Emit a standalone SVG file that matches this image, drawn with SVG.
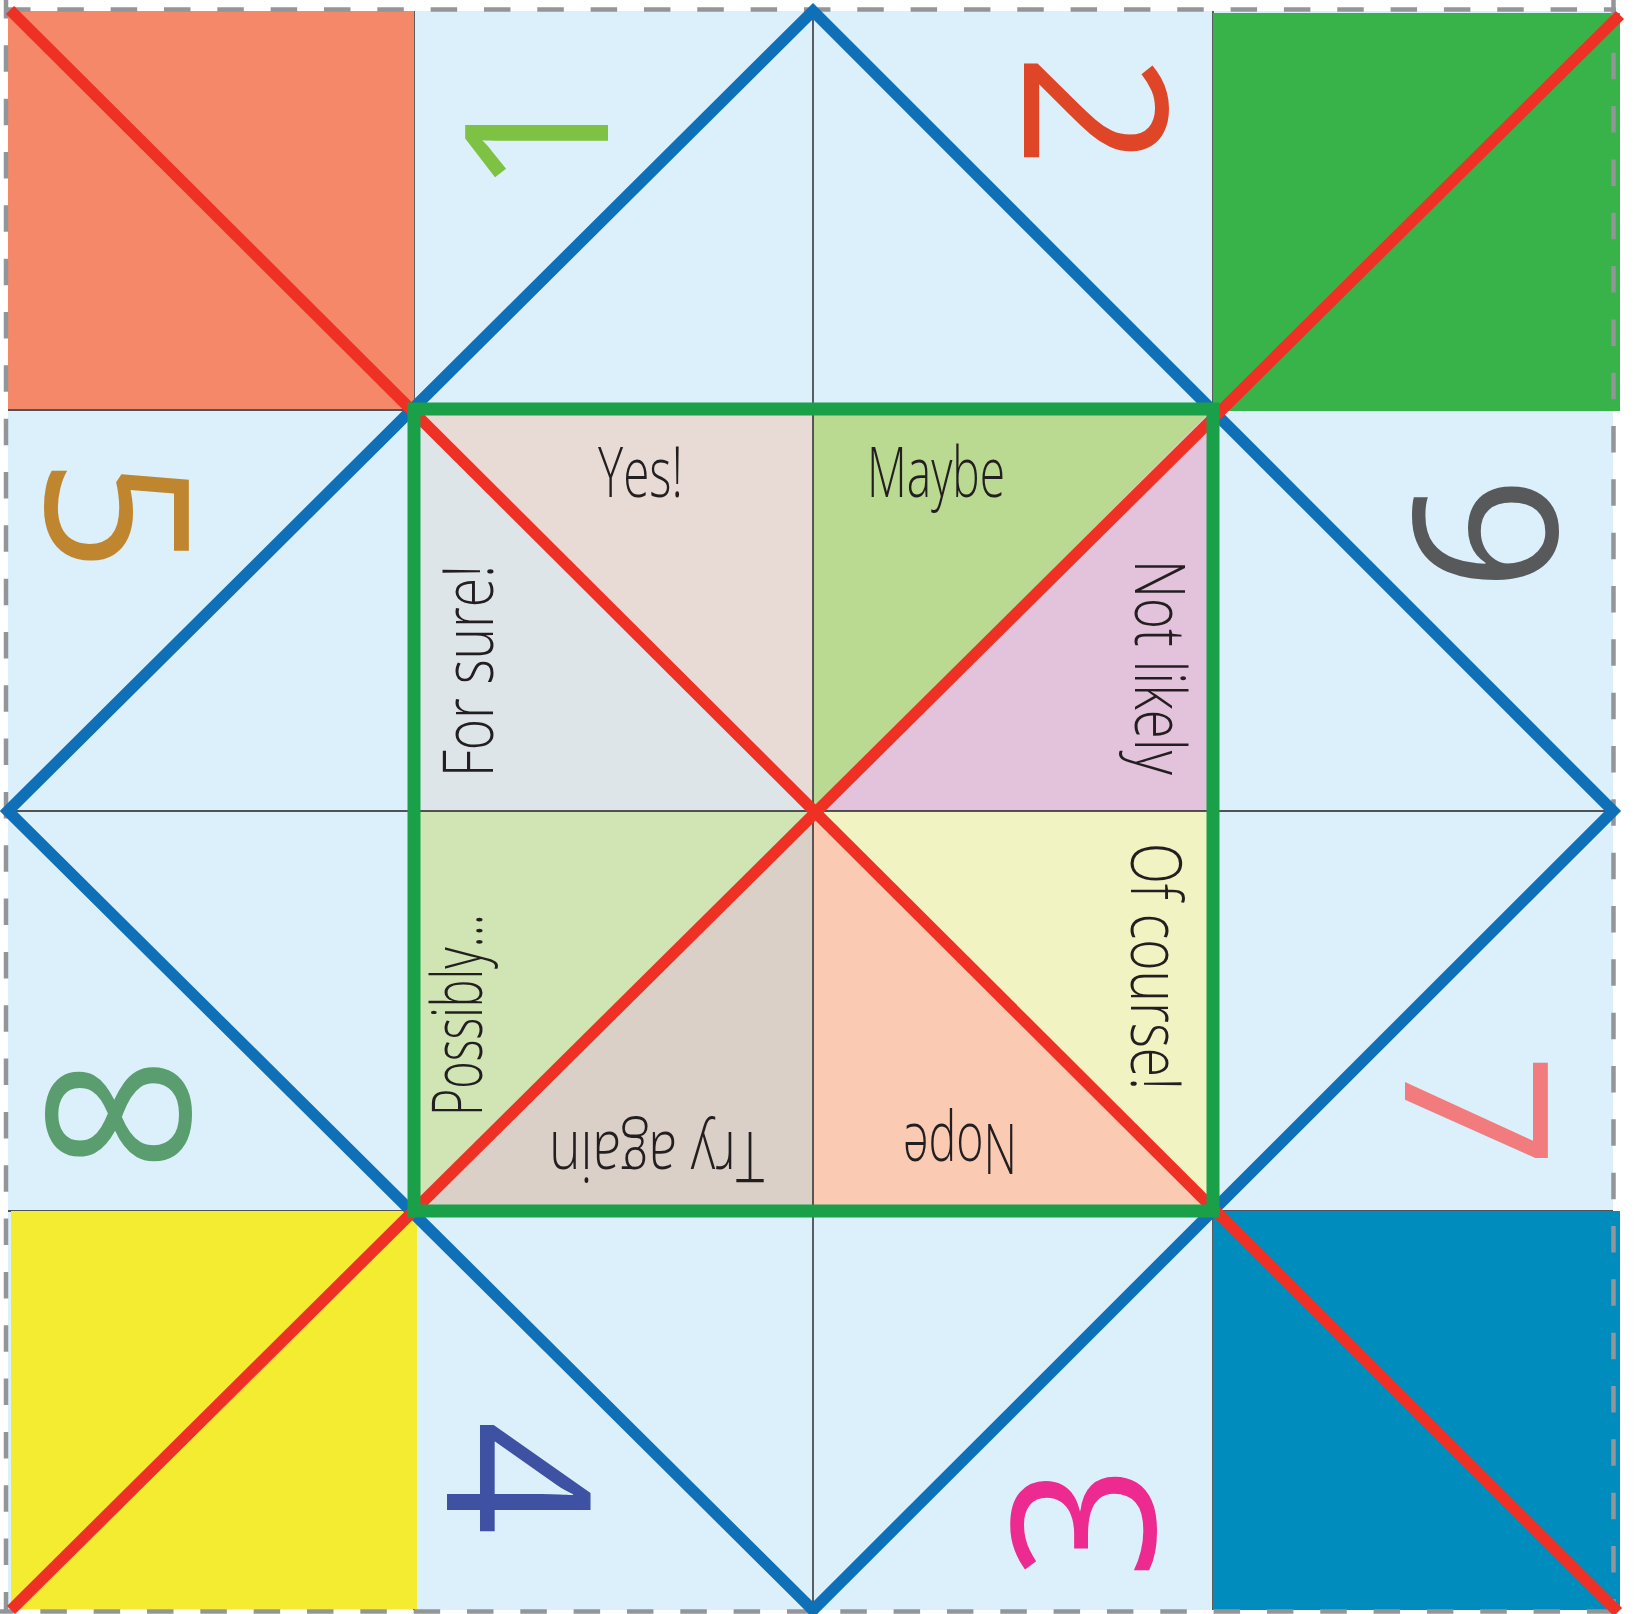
<svg xmlns="http://www.w3.org/2000/svg" width="1635" height="1614" viewBox="0 0 1635 1614">
<style>
.grid{stroke:#231f20;stroke-width:1.4;fill:none}
.dash{stroke:#939598;stroke-width:4.5;stroke-dasharray:26.5 26.83;fill:none}
.num{font-family:"Open Sans","Noto Sans",sans-serif;font-size:200px;text-anchor:middle}
.ans{font-family:"Open Sans","Noto Sans",sans-serif;font-size:70px;font-weight:300;fill:#231f20}
</style>
<rect x="0" y="0" width="1635" height="1614" fill="#ffffff"/>
<rect id="paper" x="8" y="11" width="1605" height="1599" fill="#dbf0fb"/>
<g id="answers">
<polygon points="414,409 813,409 813,811" fill="#e8dbd5"/>
<polygon points="414,409 414,811 813,811" fill="#dee5e9"/>
<polygon points="813,409 1213,409 813,811" fill="#bbda91"/>
<polygon points="1213,409 1213,811 813,811" fill="#e3c3dc"/>
<polygon points="414,811 813,811 414,1211" fill="#d0e4b4"/>
<polygon points="813,811 813,1211 414,1211" fill="#dbd0c7"/>
<polygon points="813,811 1213,811 1213,1211" fill="#f1f4c2"/>
<polygon points="813,811 813,1211 1213,1211" fill="#fbcab3"/>
</g>
<g id="grid">
<line class="grid" x1="414" y1="11" x2="414" y2="1610"/>
<line class="grid" x1="813" y1="11" x2="813" y2="1610"/>
<line class="grid" x1="1213" y1="11" x2="1213" y2="1610"/>
<line class="grid" x1="8" y1="410" x2="1613" y2="410"/>
<line class="grid" x1="8" y1="811" x2="1613" y2="811"/>
<line class="grid" x1="8" y1="1211" x2="1613" y2="1211"/>
</g>
<g id="corners">
<rect x="8" y="11" width="406" height="398" fill="#f58868"/>
<rect x="1213" y="13" width="407" height="398" fill="#37b34a"/>
<rect x="11" y="1211" width="406" height="398" fill="#f4ec30"/>
<rect x="1213" y="1211" width="407" height="399" fill="#008cbc"/>
</g>
<g id="border">
<line class="dash" x1="4" y1="9.5" x2="1616" y2="9.5"/>
<line class="dash" x1="6" y1="-8" x2="6" y2="1612"/>
<line class="dash" x1="-13" y1="1611.5" x2="1616" y2="1611.5"/>
<line class="dash" x1="1613.5" y1="-0.6" x2="1613.5" y2="1612"/>
</g>
<g id="numbers">
<text class="num" fill="#7dc242" transform="translate(537,138) rotate(-90)" y="71">1</text>
<text class="num" fill="#df4527" transform="translate(1095,111) rotate(90)" y="71">2</text>
<text class="num" fill="#c0862f" transform="translate(117,515) rotate(90)" y="71">5</text>
<text class="num" fill="#58595b" transform="translate(1486,534) rotate(-90)" y="71">6</text>
<text class="num" fill="#5a9e6f" transform="translate(119,1114) rotate(-90)" y="71">8</text>
<text class="num" fill="#f27c7d" transform="translate(1476,1111) rotate(90)" y="71">7</text>
<text class="num" fill="#3f51a3" transform="translate(518,1478) rotate(90)" y="71">4</text>
<text class="num" fill="#ec2a8f" transform="translate(1084,1522) rotate(-90)" y="71">3</text>
</g>
<g id="folds">
<polygon points="813,11 1613,811 813,1610 8,811" fill="none" stroke="#0f70b7" stroke-width="11.5"/>
<line x1="10" y1="10" x2="1618" y2="1612" stroke="#ee3124" stroke-width="11.5"/>
<line x1="1620" y1="15" x2="11" y2="1610" stroke="#ee3124" stroke-width="11.5"/>
</g>
<rect id="center-square" x="414" y="409" width="799" height="802" fill="none" stroke="#1ba04a" stroke-width="13"/>
<g id="labels">
<text class="ans" x="598" y="497" textLength="85" lengthAdjust="spacingAndGlyphs">Yes!</text>
<text class="ans" x="867" y="497" textLength="138" lengthAdjust="spacingAndGlyphs">Maybe</text>
<text class="ans" transform="translate(1135,560) rotate(90)" textLength="215" lengthAdjust="spacingAndGlyphs">Not likely</text>
<text class="ans" transform="translate(493,777) rotate(-90)" textLength="212" lengthAdjust="spacingAndGlyphs">For sure!</text>
<text class="ans" transform="translate(1131,843) rotate(90)" textLength="247" lengthAdjust="spacingAndGlyphs">Of course!</text>
<text class="ans" transform="translate(482,1116) rotate(-90)" textLength="202" lengthAdjust="spacingAndGlyphs">Possibly...</text>
<text class="ans" transform="translate(764,1132) rotate(180)" textLength="215" lengthAdjust="spacingAndGlyphs">Try again</text>
<text class="ans" transform="translate(1017,1124) rotate(180)" textLength="114" lengthAdjust="spacingAndGlyphs">Nope</text>
</g>
</svg>
